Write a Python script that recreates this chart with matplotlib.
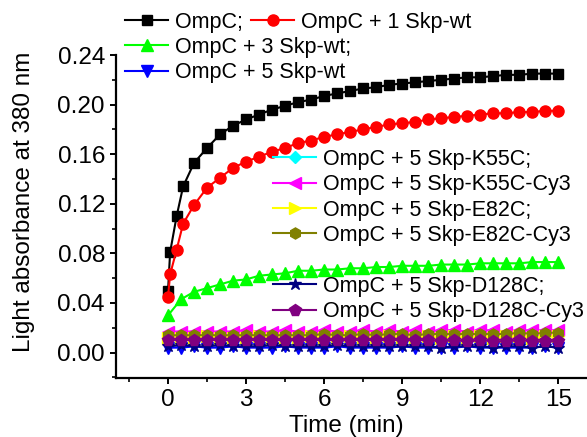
import matplotlib
matplotlib.use('Agg')
import matplotlib.pyplot as plt
from matplotlib.ticker import MultipleLocator

plt.rcParams['font.family'] = ['Liberation Sans', 'DejaVu Sans']

# sampling times (min)
t_fast = [0, 0.08, 0.33, 0.58, 1.0, 1.5, 2.0, 2.5, 3.0, 3.5, 4.0, 4.5, 5.0,
          5.5, 6.0, 6.5, 7.0, 7.5, 8.0, 8.5, 9.0, 9.5, 10.0, 10.5, 11.0,
          11.5, 12.0, 12.5, 13.0, 13.5, 14.0, 14.5, 15.0]
t_slow = [0, 0.5, 1.0, 1.5, 2.0, 2.5, 3.0, 3.5, 4.0, 4.5, 5.0, 5.5, 6.0,
          6.5, 7.0, 7.5, 8.0, 8.5, 9.0, 9.5, 10.0, 10.5, 11.0, 11.5, 12.0,
          12.5, 13.0, 13.5, 14.0, 14.5, 15.0]

ompc = [0.050, 0.081, 0.110, 0.134, 0.153, 0.165, 0.176, 0.183, 0.188, 0.192,
        0.196, 0.199, 0.202, 0.204, 0.207, 0.209, 0.211, 0.213, 0.214, 0.216,
        0.217, 0.218, 0.219, 0.220, 0.221, 0.222, 0.222, 0.223, 0.224, 0.224,
        0.225, 0.225, 0.225]
skp1 = [0.045, 0.063, 0.083, 0.104, 0.119, 0.133, 0.141, 0.149, 0.154, 0.158,
        0.162, 0.165, 0.169, 0.171, 0.174, 0.176, 0.178, 0.180, 0.182, 0.184,
        0.185, 0.186, 0.188, 0.189, 0.190, 0.191, 0.192, 0.193, 0.193, 0.194,
        0.194, 0.195, 0.195]
skp3 = [0.030, 0.043, 0.049, 0.052, 0.055, 0.058, 0.059, 0.062, 0.063, 0.064,
        0.066, 0.066, 0.067, 0.067, 0.068, 0.068, 0.069, 0.069, 0.070, 0.070,
        0.070, 0.071, 0.071, 0.071, 0.072, 0.072, 0.072, 0.072, 0.073, 0.073,
        0.073]
skp5 = [0.004, 0.004, 0.005, 0.004, 0.004, 0.005, 0.004, 0.004, 0.004, 0.005,
        0.004, 0.004, 0.004, 0.005, 0.004, 0.004, 0.004, 0.004, 0.005, 0.004,
        0.004, 0.004, 0.004, 0.005, 0.004, 0.004, 0.004, 0.004, 0.004, 0.005,
        0.004]
k55c = [0.013, 0.013, 0.013, 0.013, 0.014, 0.013, 0.013, 0.013, 0.013, 0.014,
        0.013, 0.013, 0.013, 0.013, 0.014, 0.013, 0.013, 0.013, 0.014, 0.013,
        0.013, 0.013, 0.014, 0.013, 0.013, 0.014, 0.013, 0.013, 0.014, 0.013,
        0.014]
k55c_cy3 = [0.017, 0.017, 0.017, 0.017, 0.017, 0.017, 0.018, 0.017, 0.017,
            0.018, 0.017, 0.017, 0.018, 0.017, 0.017, 0.018, 0.017, 0.018,
            0.017, 0.018, 0.017, 0.018, 0.018, 0.017, 0.018, 0.018, 0.017,
            0.018, 0.018, 0.018, 0.018]
e82c = [0.012, 0.012, 0.012, 0.013, 0.012, 0.012, 0.012, 0.013, 0.012, 0.012,
        0.012, 0.013, 0.012, 0.012, 0.013, 0.012, 0.012, 0.013, 0.012, 0.012,
        0.013, 0.012, 0.013, 0.012, 0.013, 0.012, 0.013, 0.013, 0.012, 0.013,
        0.013]
e82c_cy3 = [0.014, 0.014, 0.014, 0.014, 0.014, 0.014, 0.014, 0.014, 0.014,
            0.014, 0.014, 0.014, 0.015, 0.014, 0.014, 0.015, 0.014, 0.015,
            0.015, 0.014, 0.015, 0.015, 0.015, 0.015, 0.015, 0.015, 0.015,
            0.016, 0.015, 0.016, 0.016]
d128c = [0.005, 0.006, 0.005, 0.005, 0.006, 0.005, 0.005, 0.005, 0.006, 0.005,
         0.005, 0.005, 0.005, 0.006, 0.005, 0.005, 0.005, 0.005, 0.005, 0.005,
         0.005, 0.004, 0.005, 0.005, 0.005, 0.004, 0.005, 0.005, 0.004, 0.005,
         0.004]
d128c_cy3 = [0.010, 0.010, 0.010, 0.010, 0.010, 0.010, 0.010, 0.010, 0.010,
             0.010, 0.010, 0.010, 0.010, 0.010, 0.010, 0.010, 0.010, 0.010,
             0.010, 0.010, 0.010, 0.009, 0.010, 0.009, 0.010, 0.009, 0.009,
             0.010, 0.009, 0.009, 0.009]

labels = ['OmpC;', 'OmpC + 1 Skp-wt', 'OmpC + 3 Skp-wt;', 'OmpC + 5 Skp-wt',
          'OmpC + 5 Skp-K55C;', 'OmpC + 5 Skp-K55C-Cy3', 'OmpC + 5 Skp-E82C;',
          'OmpC + 5 Skp-E82C-Cy3', 'OmpC + 5 Skp-D128C;',
          'OmpC + 5 Skp-D128C-Cy3']

series = [
    (t_fast, ompc, 'black', 's', 6.5),
    (t_fast, skp1, '#ff0000', 'o', 8),
    (t_slow, skp3, '#00ff00', '^', 8),
    (t_slow, skp5, '#0000ff', 'v', 8),
    (t_slow, k55c, '#00ffff', 'D', 6),
    (t_slow, k55c_cy3, '#ff00ff', '<', 8),
    (t_slow, e82c, '#ffff00', '>', 8),
    (t_slow, e82c_cy3, '#808000', 'h', 8),
    (t_slow, d128c, '#000080', '*', 9),
    (t_slow, d128c_cy3, '#800080', 'p', 8.5),
]

fig = plt.figure(figsize=(5.87, 4.37), dpi=100)
ax = fig.add_axes([116 / 587, 1 - 378 / 437, 471 / 587, 323 / 437])

handles = []
for (x, y, c, m, ms), lab in zip(series, labels):
    h, = ax.plot(x, y, color=c, marker=m, markersize=ms, linewidth=1.5,
                 markeredgecolor=c, label=lab, clip_on=False)
    handles.append(h)

ax.set_xlim(-2, 16.1)
ax.set_ylim(-0.0205, 0.24)
ax.xaxis.set_minor_locator(MultipleLocator(1.5))
ax.yaxis.set_minor_locator(MultipleLocator(0.02))
ax.set_xticks([0, 3, 6, 9, 12, 15])
ax.set_yticks([0.0, 0.04, 0.08, 0.12, 0.16, 0.20, 0.24])
ax.yaxis.set_major_formatter(plt.FuncFormatter(lambda v, p: '%.2f' % v))

for s in ['top', 'right']:
    ax.spines[s].set_visible(False)
for s in ['left', 'bottom']:
    ax.spines[s].set_linewidth(1.6)
ax.tick_params(which='major', direction='out', length=4, width=1.4,
               labelsize=17.5, pad=4)
ax.tick_params(which='minor', direction='out', length=3, width=1.2)

ax.set_xlabel('Time (min)', fontsize=17.5)
ax.set_ylabel('Light absorbance at 380 nm', fontsize=17.5)
ax.xaxis.set_label_coords(0.488, -0.115)
ax.yaxis.set_label_coords(-0.172, 0.545)


def add_legend(hs, x, y, ncol=1):
    leg = fig.legend(hs, [h.get_label() for h in hs], loc='upper left',
                     bbox_to_anchor=(x, y), bbox_transform=fig.transFigure,
                     frameon=False, fontsize=15.5, ncol=ncol, numpoints=1,
                     handlelength=2.0, handletextpad=0.3, labelspacing=0.2,
                     columnspacing=0.4, borderpad=0, borderaxespad=0)
    return leg


add_legend(handles[0:2], 125 / 587, 1 - 12 / 437, ncol=2)
add_legend(handles[2:4], 125 / 587, 1 - 37 / 437)
add_legend(handles[4:8], 273 / 587, 1 - 149 / 437)
add_legend(handles[8:10], 273 / 587, 1 - 276 / 437)

fig.savefig('out.png', dpi=100)
